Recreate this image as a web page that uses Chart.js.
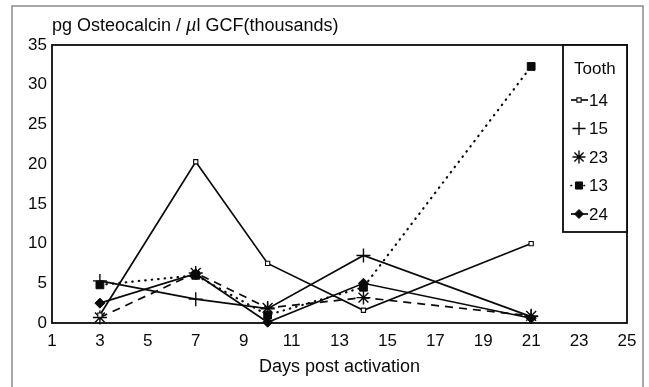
<!DOCTYPE html>
<html>
<head>
<meta charset="utf-8">
<script src="https://cdn.jsdelivr.net/npm/chart.js@4.4.0/dist/chart.umd.min.js"></script>
<style>
body{margin:0;background:#fff}
</style>
</head>
<body>
<canvas id="chart" width="649" height="387"></canvas>
<script>
// values (thousands of pg / ul GCF)
const days = [3, 7, 10, 14, 21];
const teeth = ['14', '15', '23', '13', '24'];
const tooth14 = [1.0, 20.3, 7.5, 1.6, 10.0];
const tooth15 = [5.3, 3.0, 1.8, 8.5, 0.8];
const tooth23 = [0.7, 6.3, 1.9, 3.2, 0.9];
const tooth13 = [4.8, 6.0, 1.0, 4.5, 32.3];
const tooth24 = [2.5, 6.2, 0.1, 5.0, 0.6];
const xTicks = [1, 3, 5, 7, 9, 11, 13, 15, 17, 19, 21, 23, 25];
const yTicks = [0, 5, 10, 15, 20, 25, 30, 35];

const FONT = "'Liberation Sans', Arial, Helvetica, sans-serif";
const INK = '#0a0a0a';

function pts(vals){
    return days.map((d, i) => ({x: d, y: vals[i]}));
}

// frame, plot box, heading and the boxed legend
const paperPlugin = {
    id: 'paper',
    beforeDraw(chart){
        const c = chart.ctx;
        c.save();
        c.fillStyle = '#fff';
        c.fillRect(0, 0, chart.width, chart.height);
        c.strokeStyle = '#8a8a8a';
        c.lineWidth = 1.5;
        c.strokeRect(12, 6, 631, 400);
        c.restore();
    },
    afterDatasetsDraw(chart){
        const c = chart.ctx;
        const a = chart.chartArea;
        c.save();
        c.strokeStyle = INK;
        c.lineWidth = 1.8;
        c.strokeRect(a.left, a.top, a.right - a.left, a.bottom - a.top);

        // heading with the italic mu
        c.fillStyle = INK;
        c.textBaseline = 'alphabetic';
        c.font = '18px ' + FONT;
        let x = a.left;
        const y = 31;
        const p1 = 'pg Osteocalcin / ';
        c.fillText(p1, x, y);
        x += c.measureText(p1).width;
        c.font = 'italic 18px ' + FONT;
        c.fillText('\u00b5', x, y);
        x += c.measureText('\u00b5').width;
        c.font = '18px ' + FONT;
        c.fillText('l GCF(thousands)', x, y);

        // legend box
        const lx = 563, ly = a.top, lw = a.right - 563, lh = 232 - a.top;
        c.fillStyle = '#fff';
        c.fillRect(lx, ly, lw, lh);
        c.strokeRect(lx, ly, lw, lh);
        c.fillStyle = INK;
        c.font = '17px ' + FONT;
        c.textBaseline = 'middle';
        c.fillText('Tooth', 574, 69);
        chart.data.datasets.forEach((ds, i) => {
            const cy = 100 + i * 28.5;
            const cx = 579;
            if (ds.legendLine) {
                c.beginPath();
                c.setLineDash(ds.borderDash || []);
                c.lineCap = ds.borderCapStyle || 'butt';
                c.lineWidth = 1.7;
                c.strokeStyle = INK;
                c.moveTo(571, cy);
                c.lineTo(588, cy);
                c.stroke();
                c.setLineDash([]);
                c.lineCap = 'butt';
            }
            c.fillStyle = ds.pointBackgroundColor;
            c.strokeStyle = INK;
            c.lineWidth = ds.pointBorderWidth;
            Chart.helpers.drawPoint(c, {
                pointStyle: ds.pointStyle,
                radius: ds.legendRadius,
                borderWidth: ds.pointBorderWidth,
                rotation: 0
            }, cx, cy);
            c.fillStyle = INK;
            c.fillText(ds.label, 589, cy + 1);
        });
        c.restore();
    }
};

const ctx = document.getElementById('chart').getContext('2d');
const osteoChart = new Chart(ctx, {
    type: 'line',
    data: {
        datasets: [
            {
                label: teeth[0], data: pts(tooth14),
                borderColor: INK, borderWidth: 1.7,
                pointStyle: 'rect', pointRadius: 3, pointBackgroundColor: '#fff',
                pointBorderColor: INK, pointBorderWidth: 1.1,
                legendRadius: 3, legendLine: true
            },
            {
                label: teeth[1], data: pts(tooth15),
                borderColor: INK, borderWidth: 1.7,
                pointStyle: 'cross', pointRadius: 7, pointBackgroundColor: INK,
                pointBorderColor: INK, pointBorderWidth: 1.4,
                legendRadius: 6.5, legendLine: false
            },
            {
                label: teeth[2], data: pts(tooth23),
                borderColor: INK, borderWidth: 1.7, borderDash: [8, 6],
                pointStyle: 'star', pointRadius: 7, pointBackgroundColor: INK,
                pointBorderColor: INK, pointBorderWidth: 1.4,
                legendRadius: 6.5, legendLine: false
            },
            {
                label: teeth[3], data: pts(tooth13),
                borderColor: INK, borderWidth: 2.2, borderDash: [0.5, 6], borderCapStyle: 'round',
                pointStyle: 'rect', pointRadius: 5.5, pointBackgroundColor: INK,
                pointBorderColor: INK, pointBorderWidth: 1,
                legendRadius: 5, legendLine: true
            },
            {
                label: teeth[4], data: pts(tooth24),
                borderColor: INK, borderWidth: 1.7,
                pointStyle: 'rectRot', pointRadius: 5, pointBackgroundColor: INK,
                pointBorderColor: INK, pointBorderWidth: 1,
                legendRadius: 4.5, legendLine: true
            }
        ]
    },
    options: {
        responsive: false,
        animation: false,
        clip: false,
        layout: {padding: {left: 0, top: 45, right: 22, bottom: 0}},
        elements: {line: {tension: 0, fill: false}},
        plugins: {legend: {display: false}, tooltip: {enabled: false}},
        scales: {
            x: {
                type: 'linear', min: 1, max: 25,
                afterBuildTicks: s => { s.ticks = xTicks.map(v => ({value: v})); },
                afterFit: s => { s.height = 64; },
                grid: {display: false, drawTicks: false},
                border: {display: false},
                ticks: {color: INK, padding: 8, font: {family: FONT, size: 17}, maxRotation: 0, autoSkip: false},
                title: {display: true, text: 'Days post activation', color: INK,
                        font: {family: FONT, size: 18}, padding: {top: 0, bottom: 9}}
            },
            y: {
                min: 0, max: 35,
                afterBuildTicks: s => { s.ticks = yTicks.map(v => ({value: v})); },
                afterFit: s => { s.width = 52; },
                grid: {display: false, drawTicks: false},
                border: {display: false},
                ticks: {color: INK, padding: 5, font: {family: FONT, size: 17}}
            }
        }
    },
    plugins: [paperPlugin]
});
</script>
</body>
</html>
